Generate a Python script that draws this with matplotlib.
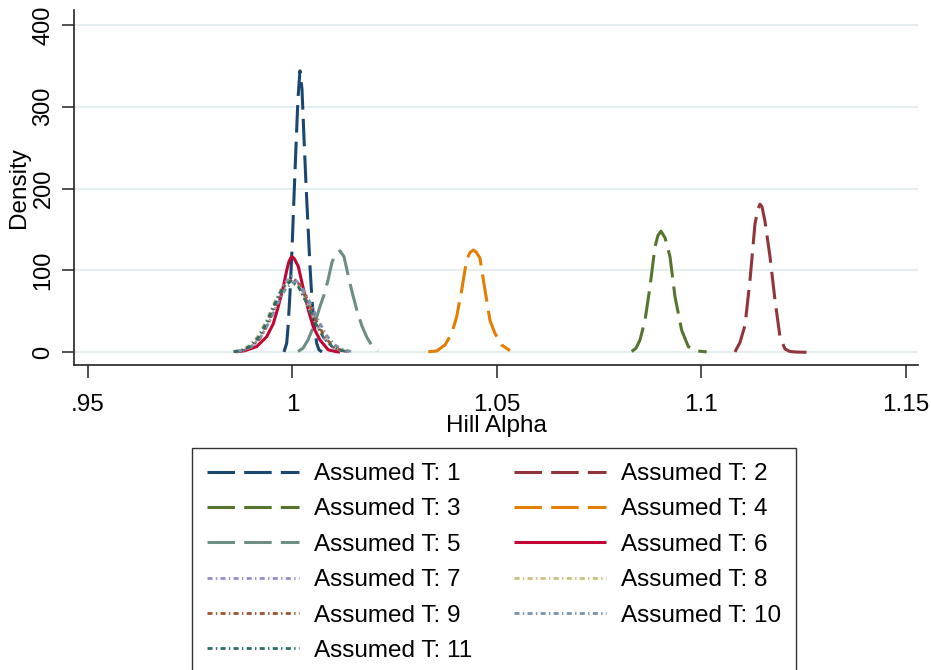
import matplotlib
matplotlib.use("Agg")
import matplotlib.pyplot as plt

plt.rcParams['font.family'] = ['Liberation Sans', 'DejaVu Sans']

# Kernel density estimates of the Hill alpha for each assumed threshold T
t1_x = [0.99792, 0.99858, 0.99890, 0.99939, 0.99988, 1.00037, 1.00086, 1.00134, 1.00183, 1.00232,
        1.00281, 1.00330, 1.00379, 1.00428, 1.00477, 1.00526, 1.00592, 1.00648, 1.00721]
t1_y = [0.5, 11, 30, 72, 125, 190, 252, 310, 344, 322, 262, 206, 155, 105, 64, 36, 11, 3, 0.5]

t2_x = [1.10819, 1.10941, 1.11064, 1.11186, 1.11308, 1.11381, 1.11430, 1.11479, 1.11553, 1.11675,
        1.11797, 1.11919, 1.12042, 1.12164, 1.12335, 1.12604]
t2_y = [0.5, 12, 33, 88, 157, 175, 181, 178, 160, 117, 64, 19, 4, 1, 0.3, 0]

t3_x = [1.08293, 1.08399, 1.08496, 1.08619, 1.08741, 1.08863, 1.08937, 1.09010, 1.09108, 1.09230,
        1.09352, 1.09516, 1.09677, 1.09841, 1.10127]
t3_y = [1, 5, 15, 39, 80, 129, 143, 148, 140, 117, 68, 27, 7, 2, 0.5]

t4_x = [1.03320, 1.03526, 1.03729, 1.03892, 1.04015, 1.04137, 1.04259, 1.04340, 1.04421, 1.04499,
        1.04584, 1.04707, 1.04829, 1.04951, 1.05115, 1.05318]
t4_y = [0.7, 1.6, 9, 23, 43.5, 76, 113, 122, 125, 122, 115, 76, 39, 23, 9, 2]

t5_x = [1.00134, 1.00257, 1.00379, 1.00477, 1.00575, 1.00672, 1.00770, 1.00868, 1.00966, 1.01064,
        1.01161, 1.01259, 1.01357, 1.01455, 1.01577, 1.01699, 1.01822, 1.01944, 1.02090]
t5_y = [1, 5, 15, 27, 40, 56, 70, 88, 110, 121, 124, 117, 95, 74, 51, 32, 18, 8, 2]

t6_x = [0.98636, 0.98839, 0.99125, 0.99369, 0.99531, 0.99653, 0.99775, 0.99858, 0.99914, 0.99976,
        1.00037, 1.00142, 1.00264, 1.00386, 1.00509, 1.00672, 1.00875, 1.01081, 1.01161]
t6_y = [0.7, 2, 7, 19, 35, 56, 80, 100, 111, 117, 115, 105, 78, 52, 31, 15, 3, 0.7, 0.3]

t7_x = [0.9858, 0.9878, 0.9898, 0.9918, 0.9938, 0.9958, 0.9978, 0.9998, 1.0018, 1.0038,
        1.0058, 1.0078, 1.0098, 1.0118, 1.0138]
t7_y = [0.5, 1.9, 6.2, 16.5, 35, 60, 83, 93, 83, 60, 35, 16.5, 6.2, 1.9, 0.5]

t8_x = [0.9855, 0.9875, 0.9895, 0.9915, 0.9935, 0.9955, 0.9975, 0.9995, 1.0015, 1.0035,
        1.0055, 1.0075, 1.0095, 1.0115, 1.0135]
t8_y = [0.9, 2.9, 8.3, 19.4, 37.6, 60, 80, 88, 80, 60, 37.6, 19.4, 8.3, 2.9, 0.9]

t9_x = [0.9861, 0.9881, 0.9901, 0.9921, 0.9941, 0.9961, 0.9981, 1.0001, 1.0021, 1.0041,
        1.0061, 1.0081, 1.0101, 1.0121, 1.0141]
t9_y = [0.6, 2.2, 6.8, 17.2, 35.5, 59.6, 81.2, 90, 81.2, 59.6, 35.5, 17.2, 6.8, 2.2, 0.6]

t10_x = [0.9864, 0.9884, 0.9904, 0.9924, 0.9944, 0.9964, 0.9984, 1.0004, 1.0024, 1.0044,
         1.0064, 1.0084, 1.0104, 1.0124, 1.0144]
t10_y = [1.0, 3.3, 8.9, 20.2, 38.1, 59.9, 78.5, 86, 78.5, 59.9, 38.1, 20.2, 8.9, 3.3, 1.0]

t11_x = [0.9856, 0.9876, 0.9896, 0.9916, 0.9936, 0.9956, 0.9976, 0.9996, 1.0016, 1.0036,
         1.0056, 1.0076, 1.0096, 1.0116, 1.0136]
t11_y = [0.7, 2.5, 7.4, 17.9, 35.8, 58.6, 78.8, 87, 78.8, 58.6, 35.8, 17.9, 7.4, 2.5, 0.7]

series_x = [t1_x, t2_x, t3_x, t4_x, t5_x, t6_x, t7_x, t8_x, t9_x, t10_x, t11_x]
series_y = [t1_y, t2_y, t3_y, t4_y, t5_y, t6_y, t7_y, t8_y, t9_y, t10_y, t11_y]
labels = ["Assumed T: %d" % i for i in range(1, 12)]

x_ticks = [0.95, 1.0, 1.05, 1.1, 1.15]
x_tick_labels = [".95", "1", "1.05", "1.1", "1.15"]
y_ticks = [0, 100, 200, 300, 400]

colors = ["#1a476f", "#90353b", "#55752f", "#e37e00", "#6e8e84", "#c10534",
          "#938dd2", "#cac27e", "#a0522d", "#7b92a8", "#2d6d66"]
long_dash = (0, (9, 3))
dash_dot = (0, (1.8, 1.2, 0.5, 1.2))
styles = [long_dash] * 5 + ["solid"] + [dash_dot] * 5
widths = [2.2] * 6 + [2.0] * 5

fig = plt.figure(figsize=(9.31, 6.70), dpi=100)
ax = fig.add_axes([74 / 931, 1 - 365 / 670, 844 / 931, 355 / 670])

lines = []
for xs, ys, c, ls, lw, lab in zip(series_x, series_y, colors, styles, widths, labels):
    ln, = ax.plot(xs, ys, color=c, linestyle=ls, linewidth=lw, label=lab,
                  solid_capstyle='butt', dash_capstyle='butt')
    lines.append(ln)

ax.set_xlim(0.94658, 1.15294)
ax.set_ylim(-15.5, 418.3)

ax.set_xticks(x_ticks)
ax.set_xticklabels(x_tick_labels)
ax.set_yticks(y_ticks)
ax.set_yticklabels([str(v) for v in y_ticks])

ax.grid(axis='y', color='#e6edf0', linewidth=1.5)
ax.set_axisbelow(True)

for side in ('top', 'right'):
    ax.spines[side].set_visible(False)
for side in ('left', 'bottom'):
    ax.spines[side].set_linewidth(1.2)
    ax.spines[side].set_color('#222222')

ax.tick_params(axis='x', length=9, width=1.2, color='#333333', labelsize=17.5, pad=12)
ax.tick_params(axis='y', length=9, width=1.2, color='#333333', labelsize=17, pad=5,
               labelrotation=90)
for lab in ax.get_yticklabels():
    lab.set_va('center')

ax.set_xlabel("Hill Alpha", fontsize=17.5)
ax.set_ylabel("Density", fontsize=17.5)
ax.xaxis.set_label_coords(0.5, -0.14)
ax.yaxis.set_label_coords(-0.052, 0.5)

# legend rows read T1|T2, T3|T4, ... so reorder for column-major filling
order = [0, 2, 4, 6, 8, 10, 1, 3, 5, 7, 9]
leg = fig.legend([lines[i] for i in order], [labels[i] for i in order],
                 loc='upper left', bbox_to_anchor=(192 / 931, 1 - 448 / 670),
                 ncol=2, fontsize=17.5, handlelength=3.8, handletextpad=0.6,
                 columnspacing=1.7, labelspacing=0.55, borderpad=0.62,
                 borderaxespad=0, fancybox=False, framealpha=1)
leg.get_frame().set_edgecolor('#333333')
leg.get_frame().set_linewidth(1.0)

fig.savefig("out.png", dpi=100)
